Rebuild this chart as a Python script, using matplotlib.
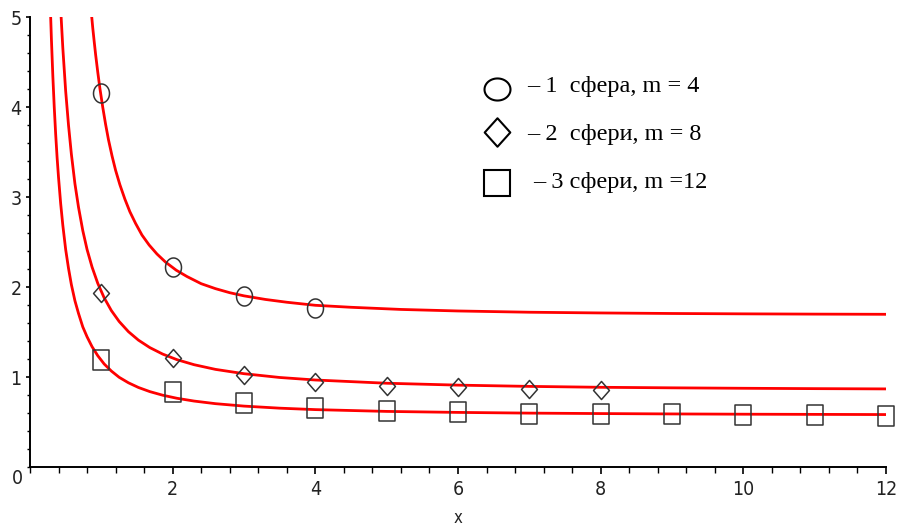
import numpy as np
import matplotlib
matplotlib.use("Agg")
import matplotlib.pyplot as plt
from matplotlib.path import Path
from matplotlib.ticker import MultipleLocator

# red curves (denser where they are steep)
curve1_x = [0.86, 0.88, 0.90, 0.92, 0.95, 0.98, 1.02, 1.06, 1.10, 1.15, 1.20, 1.26, 1.33,
            1.40, 1.48, 1.57, 1.67, 1.78, 1.90, 2.05, 2.2, 2.4, 2.6, 2.8, 3.0, 3.3, 3.6,
            4.0, 4.5, 5.2, 6.0, 7.0, 8.0, 9.0, 10.0, 11.0, 12.0]
curve1_y = [5.05, 4.88, 4.73, 4.585, 4.39, 4.21, 4.00, 3.81, 3.64, 3.46, 3.30, 3.14, 2.98,
            2.84, 2.71, 2.58, 2.47, 2.37, 2.28, 2.19, 2.12, 2.04, 1.985, 1.94, 1.905, 1.865, 1.834,
            1.80, 1.778, 1.754, 1.737, 1.723, 1.715, 1.709, 1.705, 1.702, 1.70]

curve2_x = [0.43, 0.46, 0.50, 0.54, 0.58, 0.63, 0.68, 0.74, 0.80, 0.87, 0.95, 1.04, 1.14,
            1.25, 1.38, 1.52, 1.68, 1.86, 2.06, 2.3, 2.6, 3.0, 3.5, 4.0, 5.0, 6.0, 7.0,
            8.0, 9.0, 10.0, 11.0, 12.0]
curve2_y = [5.095, 4.66, 4.18, 3.80, 3.48, 3.15, 2.89, 2.63, 2.42, 2.225, 2.044, 1.883, 1.742,
            1.62, 1.507, 1.413, 1.33, 1.258, 1.196, 1.14, 1.088, 1.04, 0.998, 0.97, 0.934, 0.913, 0.899,
            0.889, 0.883, 0.878, 0.874, 0.871]

curve3_x = [0.285, 0.29, 0.30, 0.32, 0.34, 0.36, 0.38, 0.40, 0.43, 0.46, 0.50, 0.54, 0.58,
            0.63, 0.68, 0.74, 0.80, 0.87, 0.95, 1.04, 1.14, 1.25, 1.38, 1.52, 1.68, 1.86,
            2.06, 2.3, 2.6, 3.0, 3.5, 4.0, 5.0, 6.0, 7.0, 8.0, 9.0, 10.0, 11.0, 12.0]
curve3_y = [5.12, 5.00, 4.76, 4.35, 4.00, 3.70, 3.44, 3.22, 2.93, 2.69, 2.42, 2.21, 2.03,
            1.85, 1.71, 1.56, 1.45, 1.34, 1.24, 1.148, 1.07, 1.00, 0.939, 0.887, 0.841, 0.801,
            0.767, 0.736, 0.707, 0.68, 0.657, 0.641, 0.621, 0.61, 0.602, 0.597, 0.593, 0.59, 0.588, 0.586]

# measured points
circle_x = [1, 2, 3, 4]
circle_y = [4.16, 2.23, 1.90, 1.77]
diamond_x = [1, 2, 3, 4, 5, 6, 7, 8]
diamond_y = [1.94, 1.22, 1.03, 0.95, 0.90, 0.89, 0.875, 0.86]
square_x = [1, 2, 3, 4, 5, 6, 7, 8, 9, 10, 11, 12]
square_y = [1.19, 0.84, 0.71, 0.66, 0.63, 0.61, 0.595, 0.595, 0.59, 0.58, 0.58, 0.565]

legend_labels = ["\u2013 1  сфера, m = 4", "\u2013 2  сфери, m = 8", "\u2013 3 сфери, m =12"]

W, H = 898, 529
NARROW = dict(family="DejaVu Sans", stretch="condensed")


def ellipse(w, h):
    t = np.linspace(0, 2 * np.pi, 61)
    return Path(np.column_stack([w * np.cos(t), h * np.sin(t)]), closed=True)


def rect(w, h):
    return Path([(-w, -h), (w, -h), (w, h), (-w, h), (-w, -h)], closed=True)


def diamond(w, h):
    return Path([(0, h), (w, 0), (0, -h), (-w, 0), (0, h)], closed=True)


fig = plt.figure(figsize=(W / 100, H / 100), dpi=100)
ax = fig.add_axes([30 / W, 1 - 467.3 / H, (886 - 30) / W, (467.3 - 17.3) / H])

red = "#ff0000"
for cx, cy in [(curve1_x, curve1_y), (curve2_x, curve2_y), (curve3_x, curve3_y)]:
    ax.plot(cx, cy, color=red, lw=2.0, zorder=2, solid_joinstyle="round")

mk = dict(ls="none", mfc="none", mec="#333333", mew=1.1, zorder=3, clip_on=False)
ax.plot(circle_x, circle_y, marker=ellipse(0.84, 1), ms=13.7, **mk)
ax.plot(diamond_x, diamond_y, marker=diamond(0.88, 1), ms=13, **mk)
ax.plot(square_x, square_y, marker=rect(0.84, 1), ms=13.7, **mk)

ax.set_xlim(0, 12)
ax.set_ylim(0, 5)
for s in ["top", "right"]:
    ax.spines[s].set_visible(False)
for s in ["left", "bottom"]:
    ax.spines[s].set_linewidth(1.4)
    ax.spines[s].set_color("black")

ax.set_xticks([2, 4, 6, 8, 10, 12])
ax.set_yticks([1, 2, 3, 4, 5])
ax.xaxis.set_minor_locator(MultipleLocator(0.4))
ax.yaxis.set_minor_locator(MultipleLocator(0.2))
ax.tick_params(axis="x", which="major", direction="out", length=5, width=1.2, pad=4)
ax.tick_params(axis="x", which="minor", direction="out", length=4, width=1.0)
ax.tick_params(axis="y", which="major", direction="out", length=3, width=1.2, pad=3)
ax.tick_params(axis="y", which="minor", direction="out", length=2.5, width=1.0)
for lab in ax.get_xticklabels() + ax.get_yticklabels():
    lab.set_fontfamily(NARROW["family"])
    lab.set_fontstretch(NARROW["stretch"])
    lab.set_fontsize(14)
    lab.set_color("#222222")

ax.annotate("0", (0, 0), xytext=(-7, -2), textcoords="offset pixels",
            ha="right", va="top", fontsize=14, color="#222222", **NARROW)
fig.text(458 / W, 1 - 518 / H, "x", ha="center", va="center",
         fontsize=12, color="#222222", **NARROW)

# legend drawn by hand
leg_mk = dict(ls="none", mfc="none", mec="black", mew=1.5)
fig.add_artist(plt.Line2D([497 / W], [1 - 89 / H], marker=ellipse(1, 0.85), ms=18.7,
                          transform=fig.transFigure, **leg_mk))
fig.add_artist(plt.Line2D([497 / W], [1 - 132 / H], marker=diamond(0.9, 1), ms=20.5,
                          transform=fig.transFigure, **leg_mk))
fig.add_artist(plt.Line2D([497 / W], [1 - 183 / H], marker="s", ms=18.7,
                          transform=fig.transFigure, **leg_mk))
for (lx, ly), txt in zip([(527, 91.7), (527, 140), (533, 188)], legend_labels):
    fig.text(lx / W, 1 - ly / H, txt, ha="left", va="baseline", fontsize=17.5,
             family=["Liberation Serif", "DejaVu Serif"])

fig.savefig("out.png", dpi=100)
